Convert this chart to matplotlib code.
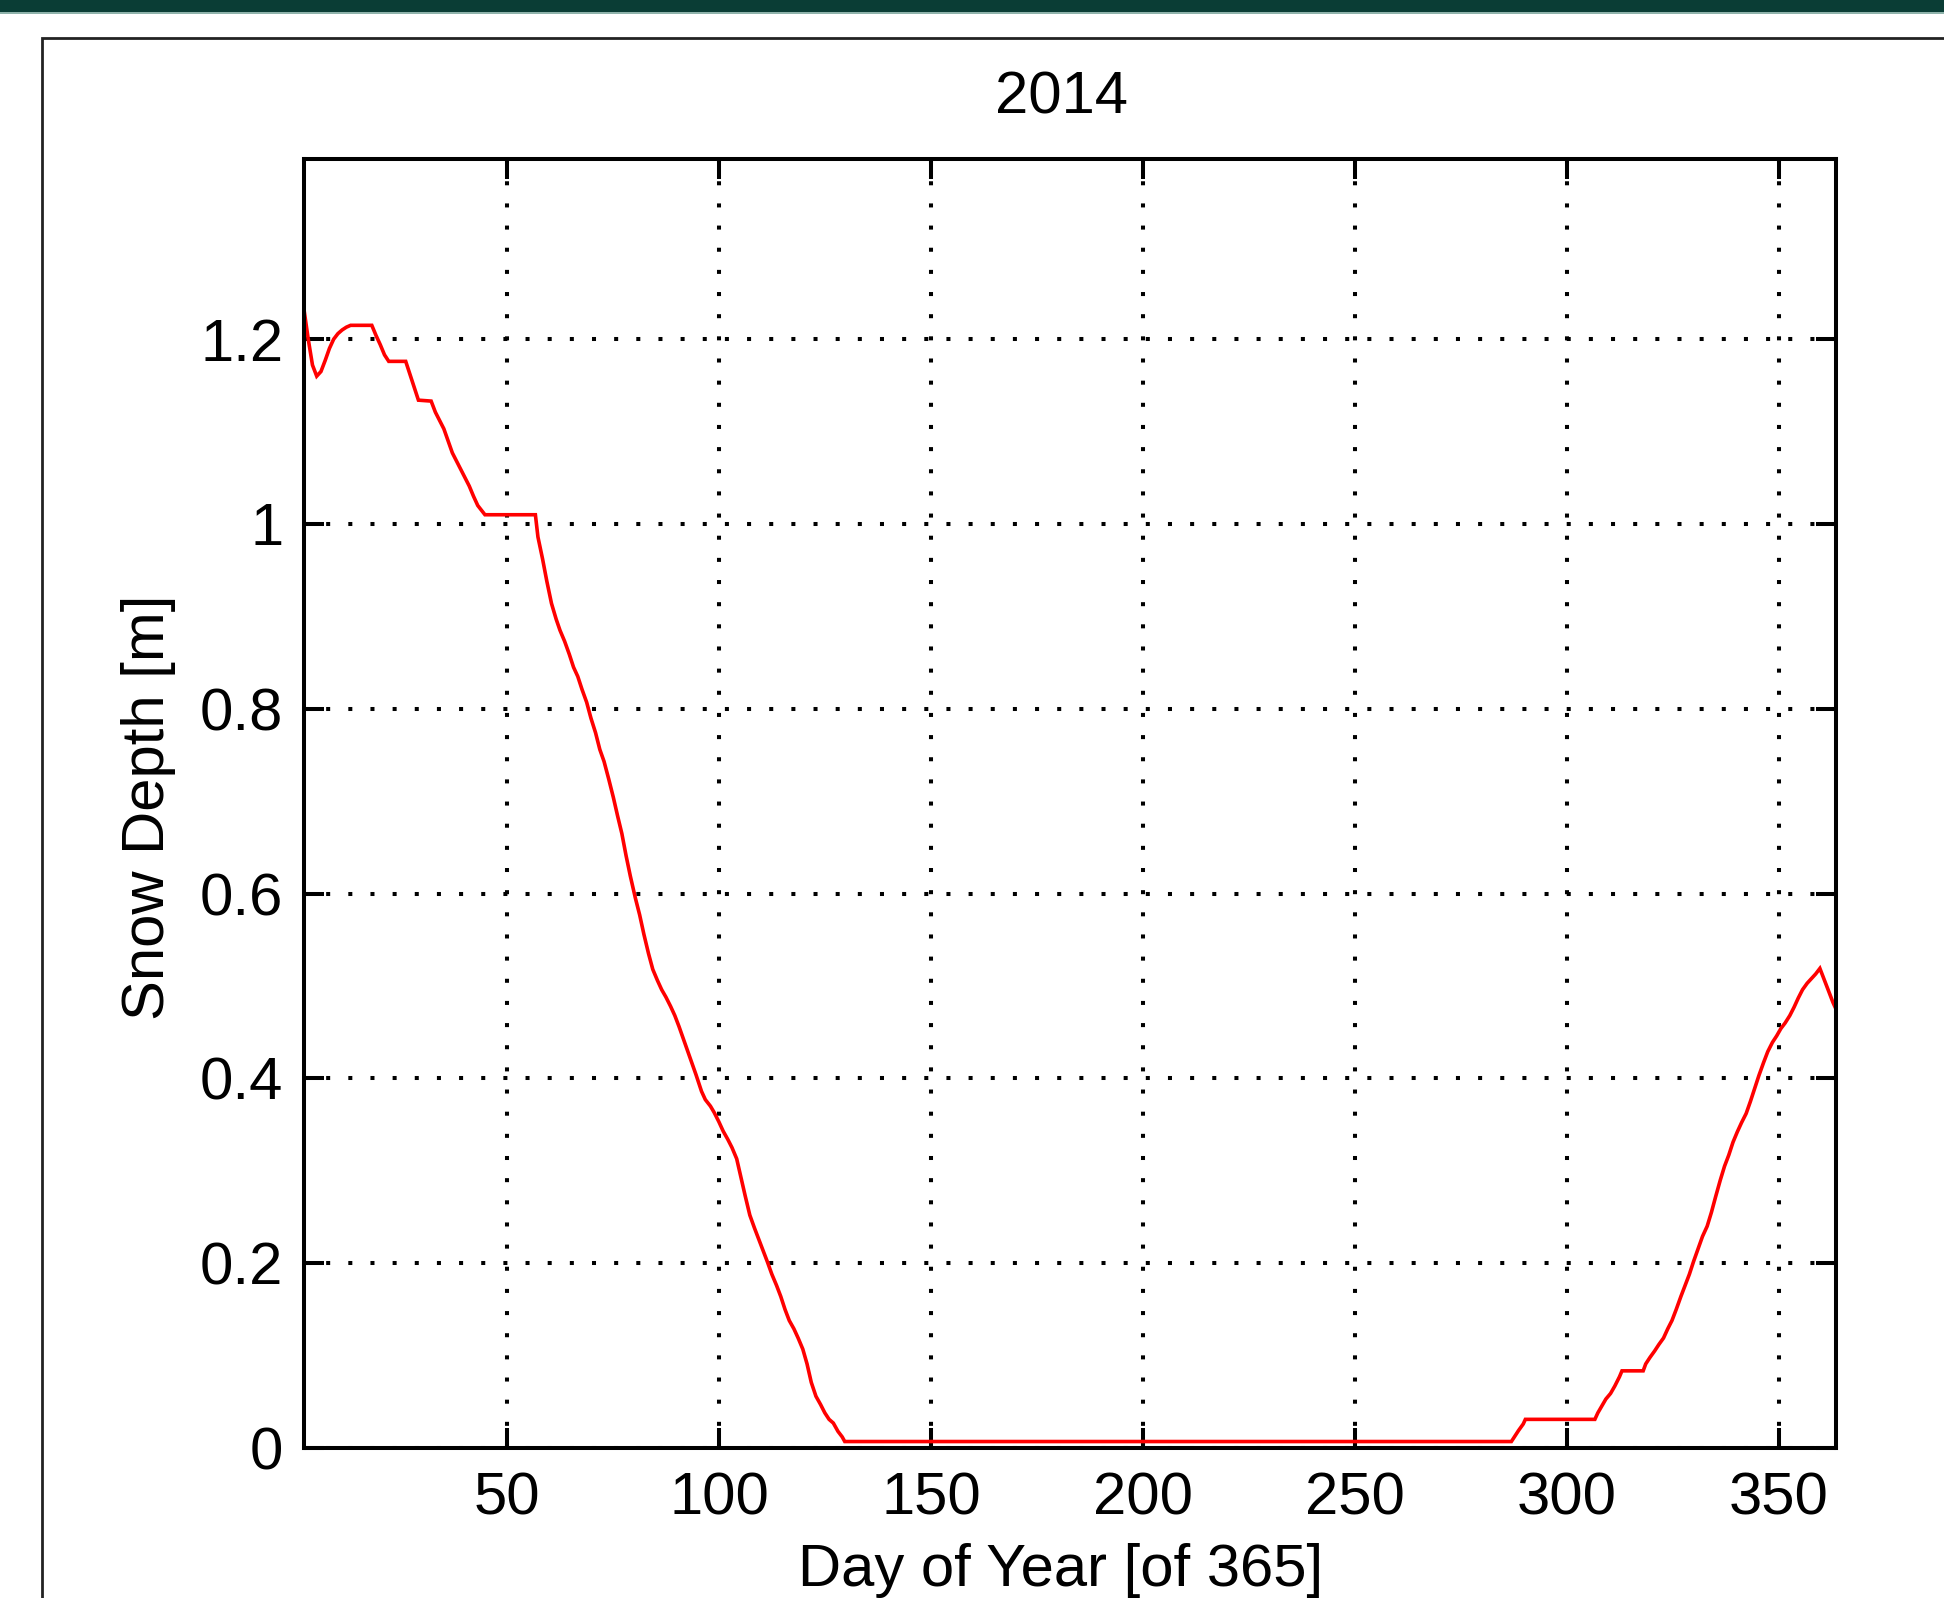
import matplotlib
matplotlib.use("Agg")
import matplotlib.pyplot as plt
from matplotlib.patches import Rectangle

# snow depth (day of year, metres)
day = [2, 3, 4, 5, 6, 7, 8, 9, 10, 11, 12, 13, 18, 19, 20, 21, 22, 26, 27, 28, 29, 32,
       33, 34, 35, 36, 37, 38, 39, 40, 41, 42, 43, 44.7, 56.6,
       57.2, 58.3, 59.3, 60.4, 61.5, 62.4, 63.5, 64.6, 65.6, 66.6, 67.6, 68.7, 69.7,
       70.8, 71.8, 72.8, 73.9, 75, 76, 77, 78, 79, 80.2, 81.2, 82.2, 83.3, 84.3, 85.4,
       86.4, 87.4, 88.5, 89.5, 90.5, 91.5, 92.5, 93.5, 94.5, 95.8,
       96.7, 97.9, 98.8, 99.9, 100.9, 102, 103, 104.1, 105.1, 106.1, 107.2, 108.3,
       109.3, 110.3, 111.3, 112.4, 113.5, 114.5, 115.5, 116.5, 117.6, 118.6, 119.7,
       120.7, 121.7, 122.8, 123.9, 124.9, 125.9, 126.9, 128, 129, 129.6,
       286.9, 287.6, 288.6, 289.7, 290.2, 306.6, 307.3, 308.2, 309.2, 310.3, 311.3,
       312.4, 313, 318, 318.6, 319.6, 320.7, 321.7, 322.8, 323.8, 324.8, 325.8, 326.9,
       327.9, 328.9, 329.9, 331, 332, 333.1, 334.1, 335.1, 336.2, 337.2, 338.2, 339.2,
       340.2, 341.2, 342.3, 343.3, 344.3, 345.3, 346.4, 347.4, 348.5, 349.5, 350.5,
       351.5, 352.6, 353.6, 354.6, 355.6, 356.7, 357.7, 358.7, 359.7, 360.8, 361.8,
       362.8, 363.5]
depth = [1.232, 1.200, 1.172, 1.160, 1.165, 1.177, 1.190, 1.200, 1.206, 1.210, 1.213,
         1.215, 1.215, 1.204, 1.194, 1.183, 1.176, 1.176, 1.162, 1.148, 1.134, 1.133,
         1.121, 1.112, 1.103, 1.090, 1.077, 1.068, 1.059, 1.050, 1.041, 1.030, 1.020,
         1.010, 1.010,
         0.986, 0.962, 0.938, 0.914, 0.897, 0.885, 0.873, 0.859, 0.845, 0.835, 0.821,
         0.807, 0.790, 0.774, 0.756, 0.743, 0.724, 0.704, 0.684, 0.665, 0.641, 0.619,
         0.595, 0.577, 0.556, 0.535, 0.518, 0.506, 0.496, 0.488, 0.478, 0.468, 0.456,
         0.443, 0.430, 0.417, 0.404, 0.386,
         0.377, 0.370, 0.363, 0.353, 0.343, 0.334, 0.325, 0.313, 0.293, 0.273, 0.252,
         0.238, 0.226, 0.214, 0.202, 0.188, 0.176, 0.164, 0.150, 0.138, 0.129, 0.119,
         0.107, 0.091, 0.071, 0.056, 0.047, 0.038, 0.031, 0.027, 0.018, 0.012, 0.007,
         0.007, 0.012, 0.019, 0.026, 0.031, 0.031, 0.038, 0.045, 0.053, 0.059, 0.067,
         0.077, 0.0835, 0.0835, 0.091, 0.098, 0.105, 0.112, 0.119, 0.129, 0.138, 0.150,
         0.164, 0.176, 0.188, 0.202, 0.216, 0.229, 0.240, 0.255, 0.272, 0.290, 0.305,
         0.317, 0.331, 0.342, 0.352, 0.362, 0.375, 0.389, 0.403, 0.417, 0.429, 0.439,
         0.446, 0.454, 0.460, 0.468, 0.477, 0.487, 0.496, 0.503, 0.508, 0.513, 0.519,
         0.506, 0.494, 0.482, 0.475]

xticks = [50, 100, 150, 200, 250, 300, 350]
yticks = [0, 0.2, 0.4, 0.6, 0.8, 1.0, 1.2]
ytick_labels = ["0", "0.2", "0.4", "0.6", "0.8", "1", "1.2"]

W, H = 1944, 1598
plt.rcParams['font.family'] = ['Liberation Sans Narrow', 'Liberation Sans', 'DejaVu Sans']
fig = plt.figure(figsize=(W / 100, H / 100), dpi=100)

# page decoration: dark band on top and the framed panel
fig.patches.append(Rectangle((0, 1 - 12 / H), 1, 12 / H, transform=fig.transFigure,
                             facecolor='#0a3d35', edgecolor='none', zorder=0))
fig.patches.append(Rectangle((0, 1 - 14 / H), 1, 2 / H, transform=fig.transFigure,
                             facecolor='#8fb3ab', edgecolor='none', zorder=0))
fig.patches.append(Rectangle((42 / W, -0.1), 1.2, 1.1 - 38 / H, transform=fig.transFigure,
                             facecolor='white', edgecolor='#222222', linewidth=2, zorder=0))

ax = fig.add_axes([304 / W, 1 - 1448 / H, (1836 - 304) / W, (1448 - 159) / H])
ax.set_zorder(5)
ax.plot(day, depth, color='#ff0000', linewidth=2.6, solid_joinstyle='miter')

ax.set_xlim(2, 363.5)
ax.set_ylim(0, 1.395)
ax.set_xticks(xticks)
ax.set_yticks(yticks)
ax.set_yticklabels(ytick_labels)
ax.grid(True, color='black', linestyle=(0, (1, 4.5)), linewidth=2.9, dash_capstyle='butt')
for s in ax.spines.values():
    s.set_linewidth(2.9)
ax.tick_params(direction='in', length=14.5, width=2.9, top=True, right=True,
               labelsize=43)
ax.tick_params(axis='y', pad=15)
ax.tick_params(axis='x', pad=17)

fig.text(1062 / W, 1 - 114 / H, "2014", fontsize=43, ha='center', va='baseline', zorder=6)
fig.text(1061 / W, 1 - 1586 / H, "Day of Year [of 365]", fontsize=43,
         ha='center', va='baseline', zorder=6)
fig.text(176 / W, 1 - 807 / H, "Snow Depth [m]", fontsize=43, rotation=90,
         ha='right', va='center', zorder=6)

fig.savefig('out.png', dpi=100)
